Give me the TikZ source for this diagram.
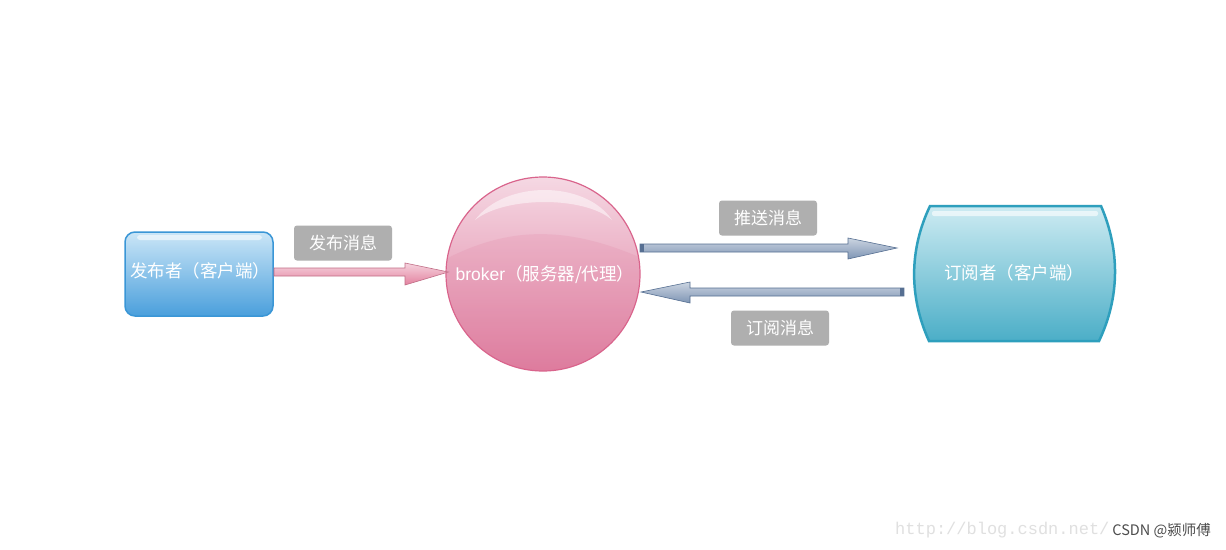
\documentclass[tikz,border=0pt]{standalone}
\usepackage{fontspec}
\setmainfont{Liberation Sans}
\newfontfamily\cjk{Noto Sans CJK SC}
\newfontfamily\wmfont{Liberation Mono}
\usetikzlibrary{arrows.meta,calc}
\definecolor{pubTop}{HTML}{CBE6F7}
\definecolor{pubBot}{HTML}{4A9FDC}
\definecolor{pubLine}{HTML}{3A96D6}
\definecolor{pinkTop}{HTML}{F5D8E3}
\definecolor{pinkBot}{HTML}{DE7C9E}
\definecolor{pinkLine}{HTML}{D9648C}
\definecolor{pinkArrow}{HTML}{E3819F}
\definecolor{slate}{HTML}{7E95B4}
\definecolor{slateLine}{HTML}{566F92}
\definecolor{tealTop}{HTML}{CDEBF2}
\definecolor{tealBot}{HTML}{4BAEC7}
\definecolor{tealLine}{HTML}{2E9FBD}
\definecolor{lblGrey}{HTML}{AFAFAF}
\tikzset{
  lbl/.style={fill=lblGrey, rounded corners=3pt, text=white, minimum width=98pt, minimum height=35pt, inner sep=0pt, font=\cjk\fontsize{17}{20}\selectfont},
  wtext/.style={text=white, font=\cjk\fontsize{17.5}{20}\selectfont, inner sep=0pt},
  pinkarrow/.style={draw=pinkArrow!85!black, line width=0.6pt},
  slatearrow/.style={draw=slateLine, line width=0.6pt}
}
\begin{document}
\begin{tikzpicture}[x=1pt,y=-1pt]
\useasboundingbox (0,0) rectangle (1226,549);
\fill[white] (0,0) rectangle (1226,549);

% publisher
\node[draw=pubLine, line width=1.5pt, rounded corners=10pt, top color=pubTop, bottom color=pubBot,
      minimum width=148pt, minimum height=84pt, inner sep=0pt] (pub) at (199,274) {};
\fill[white, opacity=0.55, rounded corners=3pt] (137,235) rectangle (262,240);
\node[wtext] (pubt) at (200,271) {发布者（客户端）};

% broker
\node[circle, draw=pinkLine, line width=1.2pt, top color=pinkTop, bottom color=pinkBot,
      minimum size=194pt, inner sep=0pt] (broker) at (543,274) {};
\begin{scope}
  \clip (543,274) circle[radius=96];
  \fill[pinkBot, opacity=0.18] (440,262) .. controls (500,230) and (560,220) .. (650,262) -- (650,380) -- (440,380) -- cycle;
\end{scope}
\fill[white, opacity=0.5] (475,220) .. controls (505,180) and (585,180) .. (612,220)
      .. controls (585,196) and (505,196) .. (475,220) -- cycle;
\node[wtext, font=\fontsize{17.5}{20}\selectfont] (brokert) at (545,275) {broker{\cjk（服务器/代理）}};

% subscriber
\coordinate (s1) at (930,206);
\coordinate (s2) at (1101,206);
\coordinate (s3) at (1099,341);
\coordinate (s4) at (929,341);
\draw[line width=2.5pt, draw=tealLine, top color=tealTop, bottom color=tealBot]
  (s1) -- (s2) .. controls (1120,250) and (1120,297) .. (s3) -- (s4)
  .. controls (909,297) and (909,250) .. (s1) -- cycle;
\fill[white, opacity=0.6, rounded corners=2pt] (932,211) rectangle (1098,216);
\node[inner sep=0pt, minimum width=198pt, minimum height=135pt] (sub) at (1014,273) {};
\node[wtext] (subt) at (1014,273) {订阅者（客户端）};

% arrows
\coordinate (a1s) at (274,272);
\coordinate (a2s) at (640,248);
\coordinate (a2e) at (897,248);
\coordinate (a3s) at (904,292);
\coordinate (a3e) at (641,292);
\path[pinkarrow, top color=pinkArrow!35!white, bottom color=pinkArrow]
  ($(a1s)+(0,-4)$) -- ($(a1s)+(131,-4)$) -- ($(a1s)+(131,-9)$) -- ($(broker.west)+(3,-2)$) -- ($(a1s)+(131,13)$) -- ($(a1s)+(131,4)$) -- ($(a1s)+(0,4)$) -- cycle;
\path[slatearrow, top color=slate!40!white, bottom color=slate]
  ($(a2s)+(0,-4)$) -- ($(a2s)+(208,-4)$) -- ($(a2s)+(208,-10)$) -- (a2e) -- ($(a2s)+(208,11)$) -- ($(a2s)+(208,4)$) -- ($(a2s)+(0,4)$) -- cycle;
\fill[slateLine] ($(a2s)+(0,-4)$) rectangle ($(a2s)+(4,4)$);
\path[slatearrow, top color=slate!40!white, bottom color=slate]
  ($(a3s)+(0,-4)$) -- ($(a3e)+(49,-4)$) -- ($(a3e)+(49,-10)$) -- (a3e) -- ($(a3e)+(49,11)$) -- ($(a3e)+(49,4)$) -- ($(a3s)+(0,4)$) -- cycle;
\fill[slateLine] ($(a3s)+(-4,-4)$) rectangle ($(a3s)+(0,4)$);

% labels
\node[lbl] (l1) at (343,243) {发布消息};
\node[lbl] (l2) at (768,218) {推送消息};
\node[lbl] (l3) at (780,328) {订阅消息};

% watermark
\node[anchor=west, text=black!12, font=\wmfont\fontsize{17}{18}\selectfont, inner sep=0pt] (wm) at (895,530) {http://blog.csdn.net/};
\node[anchor=east, text=black!70, font=\cjk\fontsize{14.5}{16}\selectfont, inner sep=0pt] (csdn) at (1211,531) {CSDN @颍师傅};
\end{tikzpicture}
\end{document}
